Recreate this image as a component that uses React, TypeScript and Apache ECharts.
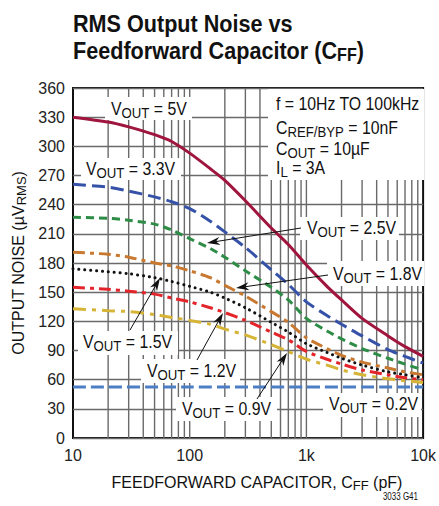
import React, { useEffect, useRef } from 'react';
import * as echarts from 'echarts';

const FONT = '"Liberation Sans", Arial, Helvetica, sans-serif';

// x: feedforward capacitor C_FF (pF), y: RMS output noise (µV RMS)
const vout5V = [[10, 330], [20, 325], [30, 320], [50, 312], [70, 305], [100, 293], [150, 277], [200, 265], [300, 244], [500, 216], [700, 199], [1000, 178], [1500, 156], [2000, 142], [3000, 123], [5000, 105], [7000, 94], [10000, 84]];
const vout3V3 = [[10, 261], [20, 258], [30, 254], [50, 248], [70, 243], [100, 236], [150, 223], [200, 212], [300, 196], [500, 173], [700, 158], [1000, 140], [1500, 126], [2000, 117], [3000, 105], [5000, 91], [7000, 84], [10000, 77]];
const vout2V5 = [[10, 227], [20, 226], [30, 224], [50, 220], [70, 214], [100, 205], [150, 195], [200, 186], [300, 172], [500, 155], [700, 142], [1000, 123], [1500, 110], [2000, 102], [3000, 92], [5000, 82], [7000, 76], [10000, 70]];
const vout1V8 = [[10, 191], [20, 189], [30, 186], [50, 180], [70, 177], [100, 172], [150, 165], [200, 157], [300, 146], [500, 130], [700, 119], [1000, 103], [1500, 92], [2000, 85], [3000, 78], [5000, 72], [7000, 68], [10000, 65]];
const vout1V5 = [[10, 174], [20, 171], [30, 169], [50, 165], [70, 161], [100, 156], [150, 150], [200, 144], [300, 134], [500, 119], [700, 109], [1000, 97], [1500, 88], [2000, 82], [3000, 75], [5000, 68], [7000, 65], [10000, 62]];
const vout1V2 = [[10, 155], [20, 153], [30, 151], [50, 148], [70, 144], [100, 140], [150, 134], [200, 129], [300, 121], [500, 109], [700, 101], [1000, 89], [1500, 81], [2000, 76], [3000, 70], [5000, 65], [7000, 62], [10000, 60]];
const vout0V9 = [[10, 133], [20, 131], [30, 130], [50, 127], [70, 124], [100, 121], [150, 117], [200, 112], [300, 106], [500, 96], [700, 89], [1000, 81], [1500, 75], [2000, 70], [3000, 65], [5000, 61], [7000, 59], [10000, 57]];
const vout0V2 = [[10, 52.5], [100, 52.5], [1000, 52.5], [10000, 52.5]];

const xMin = 10;
const xMax = 10000;
const yMin = 0;
const yMax = 360;
const yInterval = 30;
const xTickLabels: Record<number, string> = { 10: '10', 100: '100', 1000: '1k', 10000: '10k' };
const gridDecades = [10, 100, 1000];
const gridMultipliers = [2, 3, 4, 5, 6, 7, 8, 9, 10];

const seriesDefs = [
  { name: 'VOUT = 5V', data: vout5V, color: '#A0153E', dash: 'solid' as any, cap: 'butt' },
  { name: 'VOUT = 3.3V', data: vout3V3, color: '#3552A8', dash: [13, 6], cap: 'butt' },
  { name: 'VOUT = 2.5V', data: vout2V5, color: '#2D8C45', dash: [8, 5], cap: 'butt' },
  { name: 'VOUT = 1.8V', data: vout1V8, color: '#C9782F', dash: [12, 5, 4, 5], cap: 'butt' },
  { name: 'VOUT = 1.5V', data: vout1V5, color: '#111111', dash: [0.1, 5.8], cap: 'round' },
  { name: 'VOUT = 1.2V', data: vout1V2, color: '#E3242B', dash: [12, 5, 4, 5], cap: 'butt' },
  { name: 'VOUT = 0.9V', data: vout0V9, color: '#D6B436', dash: [13, 6, 4, 6], cap: 'butt' },
  { name: 'VOUT = 0.2V', data: vout0V2, color: '#4C7EC6', dash: [13, 5], cap: 'butt' },
];

const GRID_COLOR = '#6a6a6a';

function annot(text: string, x: number, y: number, opts: any = {}) {
  const fs = opts.fontSize ?? 18;
  const sfs = opts.subSize ?? 15;
  const L = opts.lineHeight ?? 22;
  const h = opts.subLineHeight ?? 15;
  return {
    type: 'text',
    x,
    y,
    scaleX: opts.scaleX ?? 0.88,
    rotation: opts.rotation ?? 0,
    z: 30,
    silent: true,
    style: {
      text,
      fontFamily: FONT,
      fontSize: fs,
      fontWeight: opts.bold ? 'bold' : 'normal',
      fill: '#111',
      align: opts.align ?? 'left',
      verticalAlign: 'middle',
      lineHeight: L,
      rich: {
        s: {
          fontFamily: FONT,
          fontSize: sfs,
          fontWeight: opts.bold ? 'bold' : 'normal',
          fill: '#111',
          lineHeight: h,
          verticalAlign: 'bottom',
        },
      },
    },
  };
}

function box(x1: number, y1: number, x2: number, y2: number) {
  return {
    type: 'rect',
    z: 5,
    silent: true,
    shape: { x: x1, y: y1, width: x2 - x1, height: y2 - y1 },
    style: { fill: '#ffffff' },
  };
}

function arrow(x1: number, y1: number, x2: number, y2: number) {
  const dx = x2 - x1;
  const dy = y2 - y1;
  const len = Math.hypot(dx, dy);
  const ux = dx / len;
  const uy = dy / len;
  const L = 13;
  const W = 4;
  const bx = x2 - ux * L;
  const by = y2 - uy * L;
  const nx = -uy;
  const ny = ux;
  const notch = [x2 - ux * L * 0.7, y2 - uy * L * 0.7];
  return [
    {
      type: 'line',
      z: 30,
      silent: true,
      shape: { x1, y1, x2: x2 - ux * L * 0.6, y2: y2 - uy * L * 0.6 },
      style: { stroke: '#111', lineWidth: 1 },
    },
    {
      type: 'polygon',
      z: 30,
      silent: true,
      shape: { points: [[x2, y2], [bx + nx * W, by + ny * W], notch, [bx - nx * W, by - ny * W]] },
      style: { fill: '#111' },
    },
  ];
}

export default function App() {
  const ref = useRef<HTMLDivElement>(null);

  useEffect(() => {
    if (!ref.current) return;
    const chart = echarts.init(ref.current, undefined, { renderer: 'svg' });

    const verticalGrid: number[][] = [];
    gridDecades.forEach((d) => gridMultipliers.forEach((m) => {
      const v = d * m;
      if (v < xMax) verticalGrid.push([v, 0]);
    }));

    const graphic: any[] = [
      // title
      annot('RMS Output Noise vs', 73, 23.7, { fontSize: 24, bold: true, lineHeight: 28, scaleX: 0.9 }),
      annot('Feedforward Capacitor (C{s|FF})', 73, 50.7, { fontSize: 24, subSize: 18, bold: true, lineHeight: 28, subLineHeight: 16, scaleX: 0.9 }),
      // white label boxes
      box(105, 97, 192, 120),
      box(81, 158, 181, 180),
      box(268, 89, 424, 180),
      box(300, 217, 399, 240),
      box(327, 261, 424, 286),
      box(78, 331, 178, 355),
      box(141, 359, 240, 383),
      box(176, 397, 277, 421),
      box(323, 393, 421, 417),
      // labels
      annot('V{s|OUT} = 5V', 111, 109),
      annot('V{s|OUT} = 3.3V', 86, 169),
      annot('f = 10Hz TO 100kHz', 276, 104),
      annot('C{s|REF/BYP} = 10nF', 276, 128),
      annot('C{s|OUT} = 10µF', 276, 149),
      annot('I{s|L} = 3A', 276, 168),
      annot('V{s|OUT} = 2.5V', 307, 228),
      annot('V{s|OUT} = 1.8V', 333, 274),
      annot('V{s|OUT} = 1.5V', 83, 342),
      annot('V{s|OUT} = 1.2V', 147, 371),
      annot('V{s|OUT} = 0.9V', 182, 409),
      annot('V{s|OUT} = 0.2V', 329, 404),
      // arrows
      ...arrow(301, 228, 207, 243),
      ...arrow(328, 275, 236, 288),
      ...arrow(130, 330, 160, 278),
      ...arrow(197, 360, 223, 313),
      ...arrow(257, 399, 287, 353),
      // axis names
      annot('FEEDFORWARD CAPACITOR, C{s|FF} (pF)', 257, 482, { fontSize: 16, subSize: 13, scaleX: 1, align: 'center', lineHeight: 20, subLineHeight: 13 }),
      annot('OUTPUT NOISE (µV{s|RMS})', 18, 263, { fontSize: 16, subSize: 13, scaleX: 1, align: 'center', rotation: Math.PI / 2, lineHeight: 20, subLineHeight: 13 }),
      annot('3033 G41', 418, 497, { fontSize: 10, scaleX: 0.8, align: 'right', lineHeight: 12 }),
    ];

    const option: any = {
      animation: false,
      backgroundColor: '#ffffff',
      grid: {
        left: 73,
        right: 13,
        top: 88,
        bottom: 68,
        show: true,
        borderColor: '#111',
        borderWidth: 2,
        backgroundColor: 'transparent',
      },
      xAxis: {
        type: 'log',
        logBase: 10,
        min: xMin,
        max: xMax,
        axisLine: { show: false },
        axisTick: { show: false },
        splitLine: { show: false },
        axisLabel: {
          fontFamily: FONT,
          fontSize: 16,
          color: '#222',
          margin: 9,
          formatter: (v: number) => xTickLabels[Math.round(v)] ?? '',
        },
      },
      yAxis: {
        type: 'value',
        min: yMin,
        max: yMax,
        interval: yInterval,
        axisLine: { show: false },
        axisTick: { show: false },
        splitLine: { show: true, lineStyle: { color: GRID_COLOR, width: 1.4 } },
        axisLabel: {
          fontFamily: FONT,
          fontSize: 16,
          color: '#222',
          margin: 8,
        },
      },
      series: [
        {
          type: 'custom',
          silent: true,
          z: 1,
          clip: true,
          data: verticalGrid,
          renderItem: (_params: any, api: any) => {
            const v = api.value(0);
            const p1 = api.coord([v, yMin]);
            const p2 = api.coord([v, yMax]);
            return {
              type: 'line',
              shape: { x1: p1[0], y1: p1[1], x2: p2[0], y2: p2[1] },
              style: { stroke: GRID_COLOR, lineWidth: 1.4 },
            };
          },
        },
        ...seriesDefs.map((s) => ({
          type: 'line',
          name: s.name,
          data: s.data,
          showSymbol: false,
          symbol: 'none',
          smooth: 0.25,
          z: 10,
          silent: true,
          lineStyle: { color: s.color, width: 3, type: s.dash, cap: s.cap },
        })),
      ],
      graphic: { elements: graphic },
    };

    chart.setOption(option);
    return () => chart.dispose();
  }, []);

  return (
    <div
      ref={ref}
      style={{ position: 'fixed', left: 0, top: 0, width: 439, height: 506, background: '#fff' }}
    />
  );
}
